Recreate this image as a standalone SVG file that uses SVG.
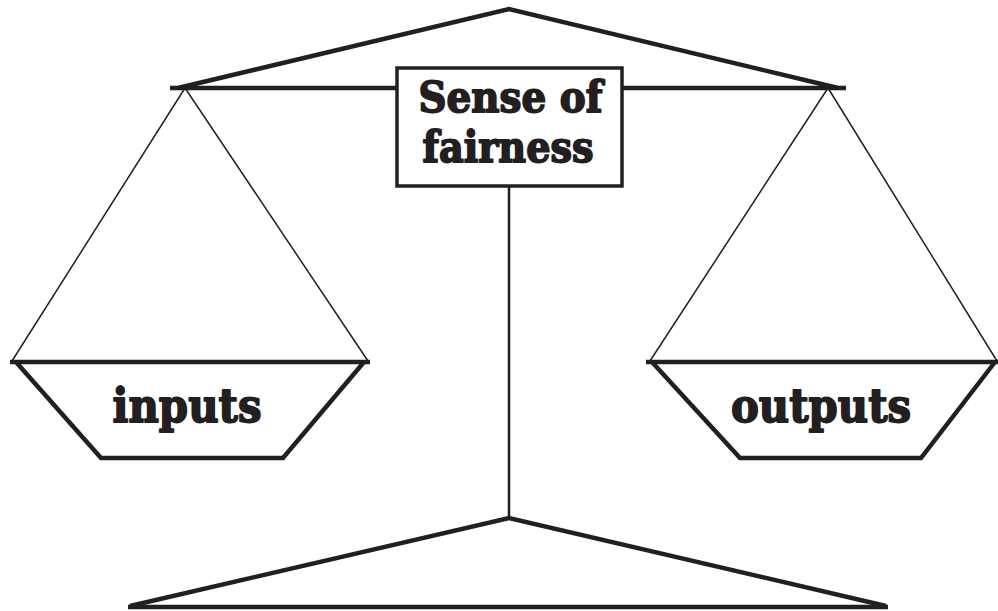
<svg xmlns="http://www.w3.org/2000/svg" width="998" height="611" viewBox="0 0 998 611">
<style>
.thick{stroke:#231f20;stroke-width:4.5;fill:none;stroke-linejoin:miter}
.thin{stroke:#231f20;stroke-width:1.5;fill:none}
.stem{stroke:#231f20;stroke-width:2.5;fill:none}
.lbl{font-family:"DejaVu Serif",serif;font-weight:bold;fill:#231f20;stroke:#231f20;stroke-width:1.8;stroke-linejoin:round;text-anchor:middle}
</style>
<rect width="998" height="611" fill="#fff"/>
<g id="connectors">
<polyline class="thick" points="178,88 509,9 838,88"/>
<line class="thick" x1="170" y1="88" x2="846" y2="88"/>
<line class="thin" x1="185" y1="88" x2="12" y2="361"/>
<line class="thin" x1="185" y1="88" x2="368" y2="361"/>
<line class="thin" x1="828" y1="88" x2="650" y2="361"/>
<line class="thin" x1="828" y1="88" x2="997" y2="361"/>
<line class="stem" x1="509" y1="186" x2="509" y2="518"/>
<polyline class="thick" points="130,606 509,518 886,606"/>
<line class="thick" x1="128" y1="607" x2="888" y2="607"/>
</g>
<g id="fairness">
<rect x="397" y="68" width="225" height="118" fill="#fff" stroke="#231f20" stroke-width="3.5"/>
<text class="lbl" x="510.5" y="112" font-size="42" textLength="184" lengthAdjust="spacingAndGlyphs">Sense of</text>
<text class="lbl" x="508" y="162" font-size="42" textLength="171" lengthAdjust="spacingAndGlyphs">fairness</text>
</g>
<g id="inputs">
<line class="thick" x1="10" y1="362" x2="370" y2="362"/>
<polyline class="thick" points="16,362 101,458 283,458 364,362"/>
<text class="lbl" x="187" y="422" font-size="46" textLength="149" lengthAdjust="spacingAndGlyphs">inputs</text>
</g>
<g id="outputs">
<line class="thick" x1="646" y1="362" x2="998" y2="362"/>
<polyline class="thick" points="652,362 740,458 921,458 995,362"/>
<text class="lbl" x="821" y="422" font-size="46" textLength="180" lengthAdjust="spacingAndGlyphs">outputs</text>
</g>
</svg>
